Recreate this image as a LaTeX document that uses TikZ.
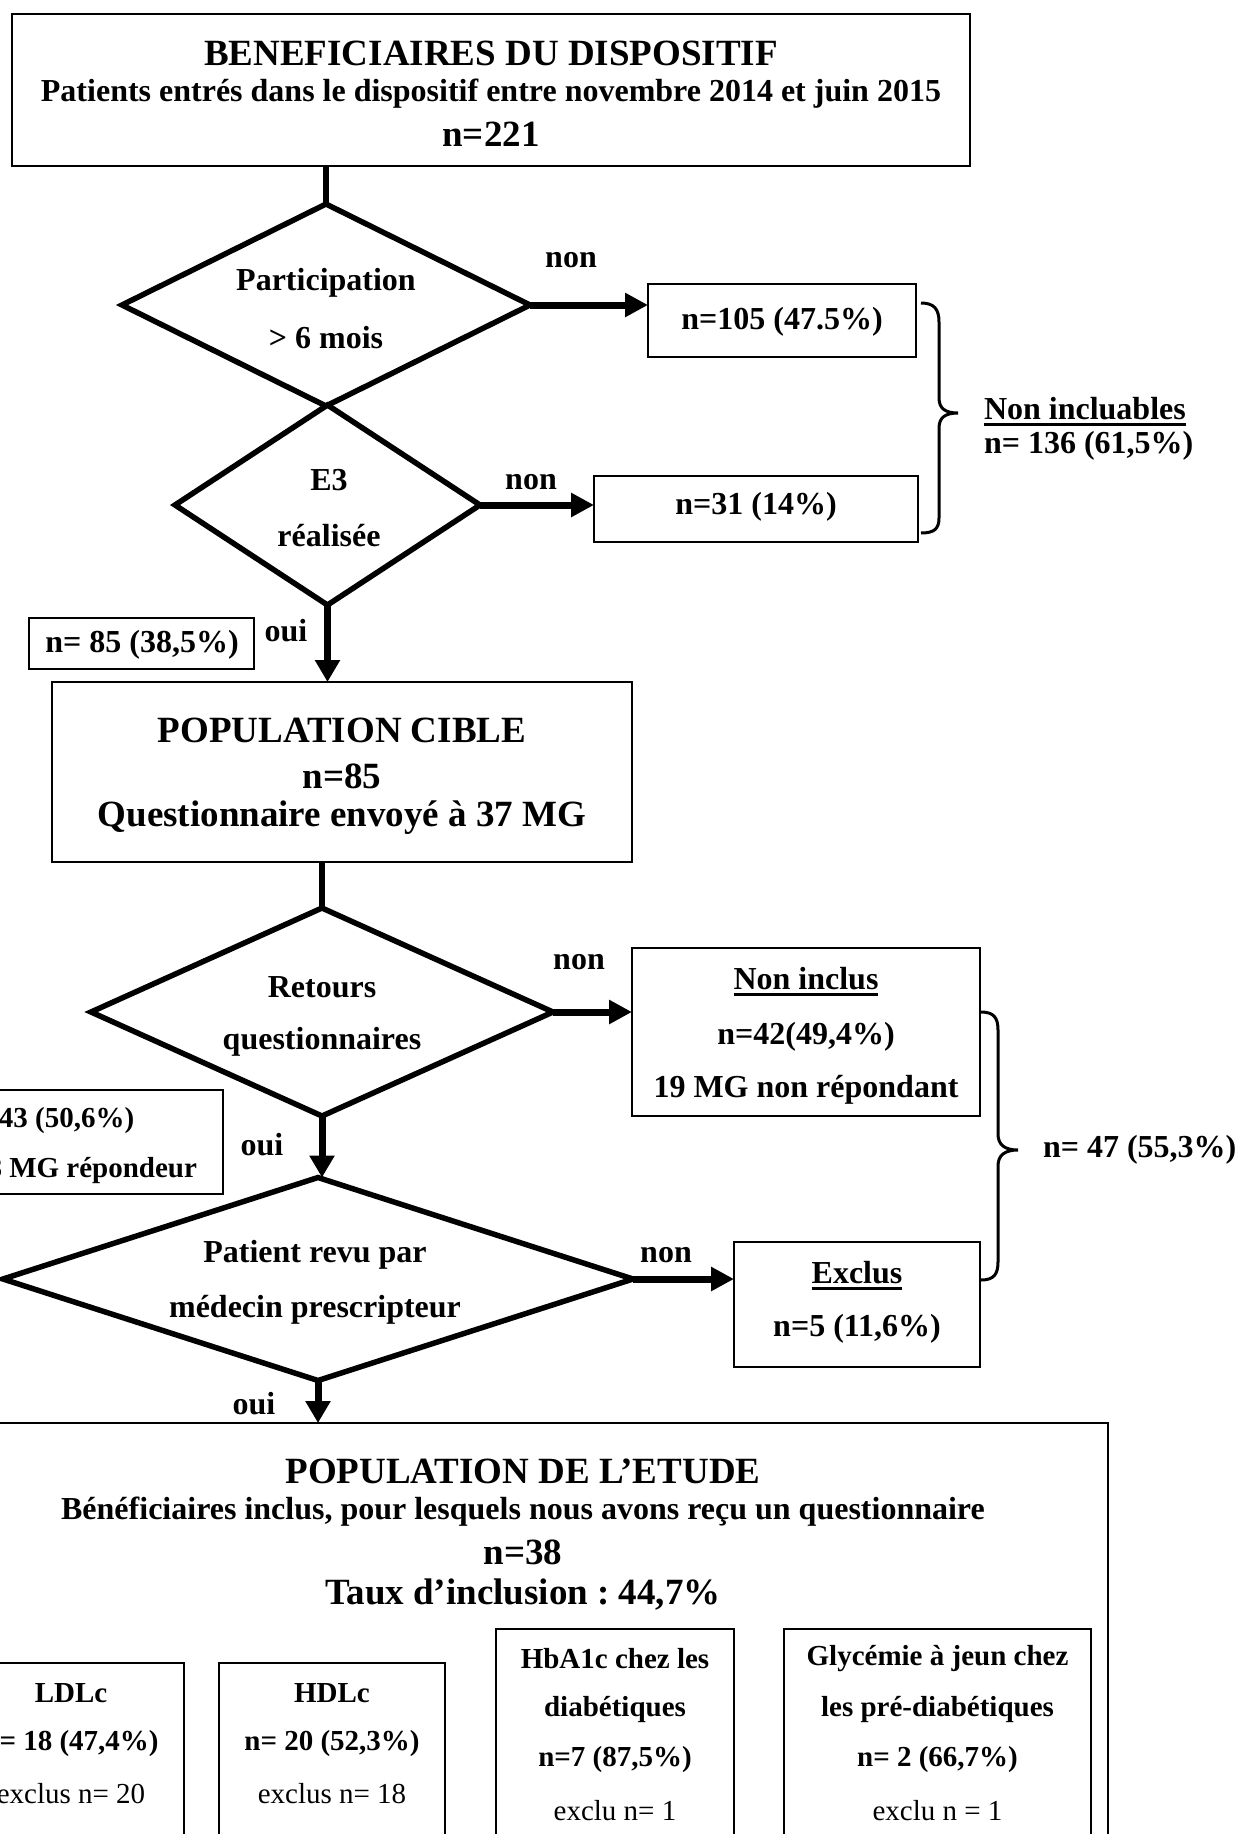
\documentclass[tikz,border=0pt]{standalone}
\usepackage{fontspec}
\setmainfont{Liberation Serif}
\usetikzlibrary{shapes.geometric,arrows.meta}
\begin{document}
\frenchspacing
\begin{tikzpicture}[x=1pt,y=-1pt,
  every node/.style={inner sep=0pt, outer sep=0pt},
  box/.style={draw, line width=2pt},
  dia/.style={draw, diamond, line width=5.5pt},
  conn/.style={line width=5.5pt},
  harr/.style={line width=7pt, -{Triangle[length=23pt,width=23pt]}},
  varr/.style={line width=7pt, -{Triangle[length=22pt,width=24pt]}},
  brace/.style={line width=3pt},
  uline/.style={line width=2.5pt},
  tA/.style={font=\fontsize{37}{44}\selectfont\bfseries},
  tB/.style={font=\fontsize{32}{38}\selectfont\bfseries},
  tC/.style={font=\fontsize{29}{35}\selectfont\bfseries},
  tD/.style={font=\fontsize{29}{35}\selectfont}]
\useasboundingbox (0,0) rectangle (1239,1834);
\fill[white] (0,0) rectangle (1239,1834);
\clip (0,0) rectangle (1239,1834);

% top box
\node[box, line width=2.5pt, minimum width=958pt, minimum height=152pt] (top) at (491,90) {};
\node[tA] (topA) at (491,53) {BENEFICIAIRES DU DISPOSITIF};
\node[tB] (topB) at (491,94) {Patients entrés dans le dispositif entre novembre 2014 et juin 2015};
\node[tA] (topC) at (491,134) {n=221};

% diamond 1
\node[dia, minimum width=408pt, minimum height=202pt] (d1) at (326,305) {};
\draw[conn] (d1.north |- top.south) -- (d1.north);
\node[tB] (d1a) at (326,283) {Participation};
\node[tB] (d1b) at (326,338) {> 6 mois};
\node[tB] (non1) at (571,260) {non};
\node[box, minimum width=268pt, minimum height=73pt] (b1) at (782,320.5) {};
\node[tB] (b1t) at (782,322) {n=105 (47.5\%)};
\draw[harr] (d1.east) -- (b1.west |- d1.east);

% diamond 2
\node[dia, minimum width=305pt, minimum height=200pt] (d2) at (327.5,505) {};
\node[tB] (d2a) at (329,480) {E3};
\node[tB] (d2b) at (329,536) {réalisée};
\node[tB] (non2) at (531,482) {non};
\node[box, minimum width=324pt, minimum height=66pt] (b2) at (756,509) {};
\node[tB] (b2t) at (756,507) {n=31 (14\%)};
\draw[harr] (d2.east) -- (b2.west |- d2.east);

% brace 1
\draw[brace] (921,303) .. controls (934,303) and (939,309) .. (939,322)
  -- (939,398) .. controls (939,409) and (946,413) .. (958,413)
  .. controls (946,413) and (939,417) .. (939,428)
  -- (939,518) .. controls (939,529) and (934,533) .. (921,533);
\node[tB, anchor=west] (ninc) at (984,409) {Non incluables};
\draw[uline] ([yshift=-4pt]ninc.south west) -- ([yshift=-4pt]ninc.south east);
\node[tB, anchor=west] (ninc2) at (984,446) {n= 136 (61,5\%)};

% oui / 85
\node[tB] (oui1) at (286,631) {oui};
\node[box, minimum width=225pt, minimum height=51pt] (b85) at (141.5,643.5) {};
\node[tB] (b85t) at (142,645) {n= 85 (38,5\%)};

% population cible
\node[box, line width=2.5pt, minimum width=580pt, minimum height=180pt] (pc) at (342,772) {};
\node[tA] (pcA) at (342,730) {POPULATION CIBLE};
\node[tA] (pcB) at (342,776) {n=85};
\node[tA] (pcC) at (342,818) {Questionnaire envoyé à 37 MG};
\draw[varr] (d2.south) -- (d2.south |- pc.north);

% diamond 3
\node[dia, minimum width=462pt, minimum height=208pt] (d3) at (322,1012) {};
\draw[conn] (d3.north |- pc.south) -- (d3.north);
\node[tB] (d3a) at (322,987) {Retours};
\node[tB] (d3b) at (322,1042) {questionnaires};
\node[tB] (non3) at (579,962) {non};
\node[box, minimum width=348pt, minimum height=168pt] (b3) at (806,1032) {};
\node[tB] (b3a) at (806,979) {Non inclus};
\draw[uline] ([yshift=-4pt]b3a.south west) -- ([yshift=-4pt]b3a.south east);
\node[tB] (b3b) at (806,1037) {n=42(49,4\%)};
\node[tB] (b3c) at (806,1090) {19 MG non répondant};
\draw[harr] (d3.east) -- (b3.west |- d3.east);

% brace 2
\draw[brace] (981,1012) .. controls (994,1012) and (998,1018) .. (998,1030)
  -- (998,1134) .. controls (998,1145) and (1005,1150) .. (1018,1150)
  .. controls (1005,1150) and (998,1155) .. (998,1166)
  -- (998,1262) .. controls (998,1274) and (994,1280) .. (981,1280);
\node[tB, anchor=west] (n47) at (1043,1150) {n= 47 (55,3\%)};

% box 43
\node[box, minimum width=290pt, minimum height=104pt] (b43) at (78,1142) {};
\node[tC, anchor=west] (b43a) at (-41,1121) {n= 43 (50,6\%)};
\node[tC, anchor=west] (b43b) at (-27,1170) {18 MG répondeur};
\node[tB] (oui2) at (262,1145) {oui};

% diamond 4
\node[dia, minimum width=630pt, minimum height=203pt] (d4) at (318,1279) {};
\draw[varr] (d3.south) -- (d3.south |- d4.north);
\node[tB] (d4a) at (315,1255) {Patient revu par};
\node[tB] (d4b) at (315,1310) {médecin prescripteur};
\node[tB] (non4) at (666,1255) {non};
\node[box, minimum width=246pt, minimum height=125pt] (b4) at (857,1304.5) {};
\node[tB] (b4a) at (857,1273) {Exclus};
\draw[uline] ([yshift=-4pt]b4a.south west) -- ([yshift=-4pt]b4a.south east);
\node[tB] (b4b) at (857,1329) {n=5 (11,6\%)};
\draw[harr] (d4.east) -- (b4.west |- d4.east);

% population de l'etude
\node[tB] (oui3) at (254,1404) {oui};
\node[box, minimum width=1147pt, minimum height=500pt] (big) at (534,1673) {};
\draw[varr] (d4.south) -- (d4.south |- big.north);
\node[tA] (bigA) at (523,1471) {POPULATION DE L’ETUDE};
\node[tB] (bigB) at (523,1512) {Bénéficiaires inclus, pour lesquels nous avons reçu un questionnaire};
\node[tA] (bigC) at (523,1552) {n=38};
\node[tA] (bigD) at (523,1595) {Taux d’inclusion : 44,7\%};

% sub boxes
\node[box, minimum width=226pt, minimum height=300pt] (s1) at (71,1813) {};
\node[tC] (s1a) at (71,1693) {LDLc};
\node[tC] (s1b) at (71,1744) {n= 18 (47,4\%)};
\node[tD] (s1c) at (71,1794) {exclus n= 20};
\node[box, minimum width=226pt, minimum height=300pt] (s2) at (332,1813) {};
\node[tC] (s2a) at (332,1693) {HDLc};
\node[tC] (s2b) at (332,1744) {n= 20 (52,3\%)};
\node[tD] (s2c) at (332,1794) {exclus n= 18};
\node[box, minimum width=238pt, minimum height=300pt] (s3) at (615,1779) {};
\node[tC] (s3a) at (615,1659) {HbA1c chez les};
\node[tC] (s3b) at (615,1709) {diabétiques};
\node[tC] (s3c) at (615,1760) {n=7 (87,5\%)};
\node[tD] (s3d) at (615,1811) {exclu n= 1};
\node[box, minimum width=307pt, minimum height=300pt] (s4) at (937.5,1779) {};
\node[tC] (s4a) at (937.5,1659) {Glycémie à jeun chez};
\node[tC] (s4b) at (937.5,1709) {les pré-diabétiques};
\node[tC] (s4c) at (937.5,1760) {n= 2 (66,7\%)};
\node[tD] (s4d) at (937.5,1811) {exclu n = 1};
\end{tikzpicture}
\end{document}
